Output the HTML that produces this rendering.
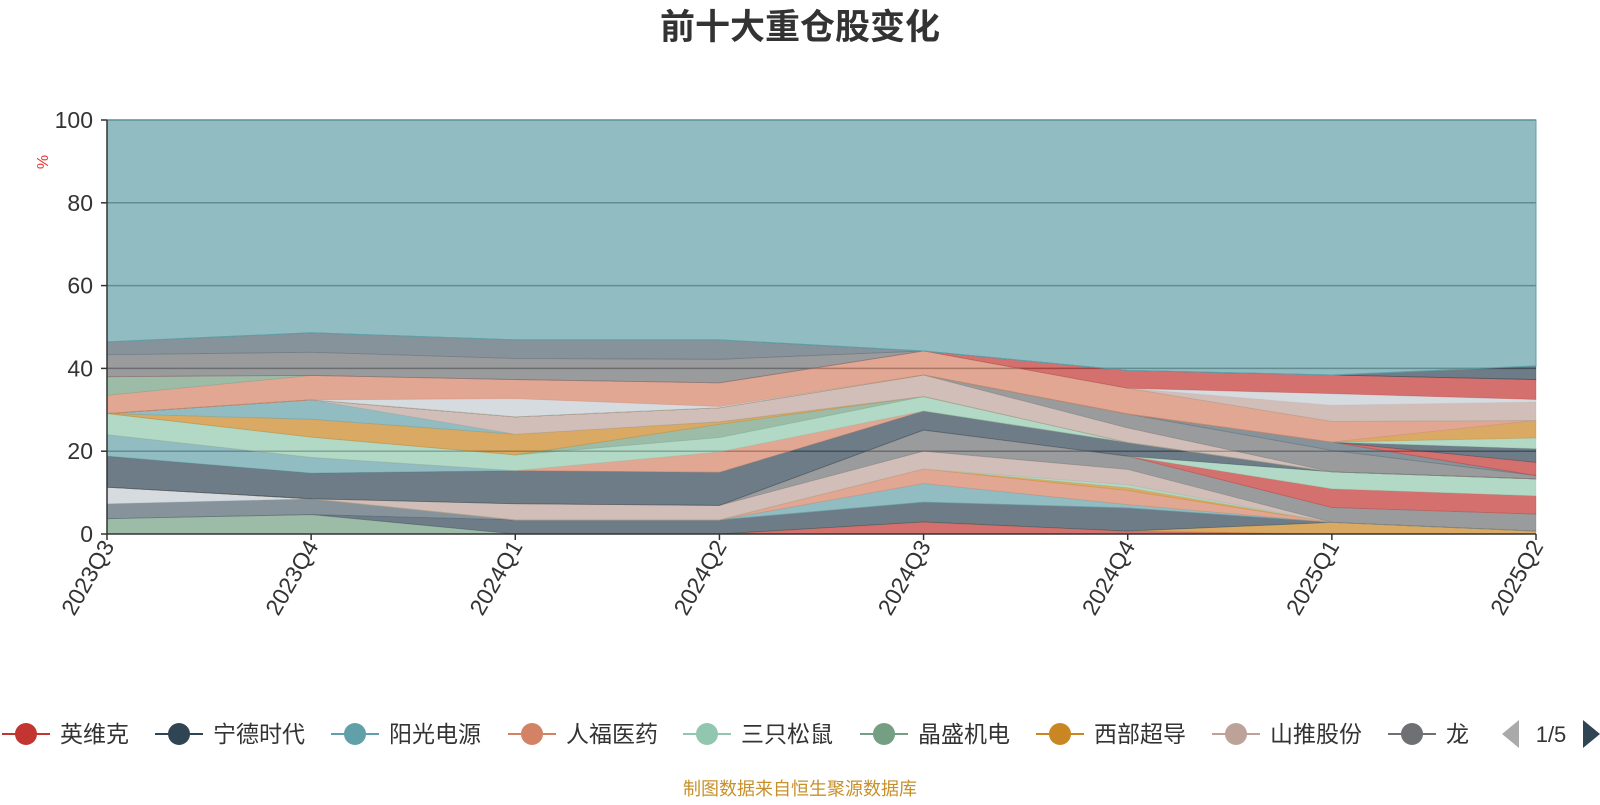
<!DOCTYPE html>
<html><head><meta charset="utf-8">
<style>
html,body{margin:0;padding:0;background:#fff;}
body{width:1600px;height:800px;overflow:hidden;font-family:"Liberation Sans","Noto Sans CJK SC",sans-serif;}
svg text{font-family:"Liberation Sans","Noto Sans CJK SC",sans-serif;}
</style></head>
<body>
<svg id="chart" width="1600" height="800" xmlns="http://www.w3.org/2000/svg">
<text x="800" y="39" text-anchor="middle" font-size="35" font-weight="bold" fill="#333">前十大重仓股变化</text>
<text x="0" y="0" font-size="16" fill="#e33" transform="translate(48,162) rotate(-90)" text-anchor="middle">%</text>
<g id="grid"></g>
<g id="areas"></g>
<g id="axes"></g>
<g id="legend"></g>
<text x="800" y="795" text-anchor="middle" font-size="18" fill="#c8902a">制图数据来自恒生聚源数据库</text>
</svg>
<script>
const categories = ["2023Q3","2023Q4","2024Q1","2024Q2","2024Q3","2024Q4","2025Q1","2025Q2"];
const yTicks = [0,20,40,60,80,100];
const legendNames = ["英维克","宁德时代","阳光电源","人福医药","三只松鼠","晶盛机电","西部超导","山推股份","龙"];
const legendColors = ["#c23531","#2f4554","#61a0a8","#d48265","#91c7ae","#749f83","#ca8622","#bda29a","#6e7074"];
// layer values (bottom to top), thickness in %
const redBottom      = [0,0,0,0,2.9,0.7,0,0];
const orangeBottom   = [0,0,0,0,0,0,2.8,0.7];
const greenBottom    = [3.7,4.7,0,0,0,0,0,0];
const slateBottom    = [0,0,3.4,3.4,4.8,5.6,0,0];
const blueGreyBottom = [3.6,3.8,0,0,0,0,0,0];
const lightBottom    = [4.0,0,0,0,0,0,0,0];
const tealLow        = [0,0,0,0,4.5,0.8,0,0];
const salmonLow      = [0,0,0,0,3.5,3.4,0,0];
const orangeLow      = [0,0,0,0,0,0.7,0,0];
const mintLow        = [0,0,0,0,0,0.7,0,0];
const pinkLow        = [0,0,3.9,3.5,4.3,3.7,0,0];
const greyLow        = [0,0,0,0,5.1,3.2,3.6,4.1];
const redLow         = [0,0,0,0,0,0,4.5,4.4];
const mintLow2       = [0,0,0,0,0,0,4.1,4.1];
const slateMain      = [7.5,6.2,8.0,8.0,4.6,3.3,0,0];
const tealMid        = [5.2,3.8,0,0,0,0,0,0];
const salmonMid      = [0,0,0,4.9,0,0,0,0];
const mintMain       = [5.1,4.9,3.8,3.5,3.5,0,0,0];
const greenMid       = [0,0,0,3.2,0,0,0,0];
const orangeMid      = [0,4.3,5.0,0.6,0,0,0,0];
const tealUpper      = [0,4.7,0,0,0,0,0,0];
const pinkTop        = [0,0,4.2,3.4,5.2,3.5,0,0];
const greyUpper      = [0,0,0,0,0,3.4,5.2,0.8];
const blueGreyMid    = [0,0,0,0,0,0,2.0,0];
const redMid         = [0,0,0,0,0,0,0,3.2];
const slateMid       = [0,0,0,0,0,0,0,3.3];
const mintTop        = [0,0,0,0,0,0,0,2.6];
const orangeTop      = [0,0,0,0,0,0,0,4.2];
const lightMid       = [0,0,4.4,0.3,0,0,0,0];
const salmonMain     = [4.4,5.9,4.6,5.7,5.8,6.2,5.0,0];
const greenTop       = [4.5,0,0,0,0,0,0,0];
const pinkTop2       = [0,0,0,0,0,0,3.9,4.5];
const lightTop       = [0,0,0,0,0,0,2.8,0.6];
const redTop         = [0,0,0,0,0,4.3,4.5,4.8];
const greyTop        = [5.3,5.6,5.1,5.7,0,0,0,0];
const blueGreyTop    = [3.1,4.7,4.5,4.7,0,0,0,0];
const slateTop       = [0,0,0,0,0,0,0,3.3];

const C = {red:"#c23531",slate:"#2f4554",teal:"#61a0a8",salmon:"#d48265",mint:"#91c7ae",green:"#749f83",orange:"#ca8622",pink:"#bda29a",grey:"#6e7074",bg:"#546570",light:"#c4ccd3"};
const layers = [
 [redBottom,C.red],[orangeBottom,C.orange],[greenBottom,C.green],[slateBottom,C.slate],[blueGreyBottom,C.bg],
 [lightBottom,C.light],[tealLow,C.teal],[salmonLow,C.salmon],[orangeLow,C.orange],[mintLow,C.mint],
 [pinkLow,C.pink],[greyLow,C.grey],[redLow,C.red],[mintLow2,C.mint],[slateMain,C.slate],[tealMid,C.teal],
 [salmonMid,C.salmon],[mintMain,C.mint],[greenMid,C.green],[orangeMid,C.orange],[tealUpper,C.teal],
 [pinkTop,C.pink],[greyUpper,C.grey],[blueGreyMid,C.bg],[redMid,C.red],[slateMid,C.slate],[mintTop,C.mint],
 [orangeTop,C.orange],[lightMid,C.light],[salmonMain,C.salmon],[greenTop,C.green],[pinkTop2,C.pink],
 [lightTop,C.light],[redTop,C.red],[greyTop,C.grey],[blueGreyTop,C.bg],[slateTop,C.slate]
];
const NS="http://www.w3.org/2000/svg";
const X0=107,X1=1536,Y0=534,Y1=120;
function xScale(i){return X0+(X1-X0)*i/(categories.length-1);}
function yScale(v){return Y0-(Y0-Y1)*v/100;}
function mk(tag,attrs,parent){const e=document.createElementNS(NS,tag);for(const k in attrs)e.setAttribute(k,attrs[k]);parent.appendChild(e);return e;}
const grid=document.getElementById('grid'),areas=document.getElementById('areas'),axes=document.getElementById('axes'),legend=document.getElementById('legend');
yTicks.forEach(t=>{ if(t===0)return;
 const l=mk('line',{x1:X0,x2:X1,y1:yScale(t),y2:yScale(t),stroke:'#888','stroke-width':1.5},grid);
 
 
});
let base=categories.map(()=>0);
layers.forEach((ly,li)=>{
 const vals=ly[0];
 const top=base.map((b,i)=>b+vals[i]);
 let d='M'+categories.map((c,i)=>xScale(i)+','+yScale(top[i])).join('L');
 for(let i=categories.length-1;i>=0;i--) d+='L'+xScale(i)+','+yScale(base[i]);
 d+='Z';
 const p=mk('path',{d:d,fill:ly[1],'fill-opacity':0.7,stroke:ly[1],'stroke-opacity':0.35,'stroke-width':0.8},areas);
 
 
 base=top;
});
{
 let d='M'+categories.map((c,i)=>xScale(i)+','+yScale(100)).join('L');
 for(let i=categories.length-1;i>=0;i--) d+='L'+xScale(i)+','+yScale(base[i]);
 d+='Z';
 const p=mk('path',{d:d,fill:C.teal,'fill-opacity':0.7,stroke:C.teal,'stroke-width':1},areas);
 
 
}
yTicks.forEach(t=>{ if(t===0)return;
 const l=mk('line',{x1:X0,x2:X1,y1:yScale(t),y2:yScale(t),stroke:'rgba(0,0,0,0.08)','stroke-width':1.5},areas);
 
 
});
const ya=mk('line',{x1:X0,x2:X0,y1:Y1,y2:Y0,stroke:'#333','stroke-width':1.5},axes);


const xa=mk('line',{x1:X0,x2:X1,y1:Y0,y2:Y0,stroke:'#333','stroke-width':1.5},axes);


yTicks.forEach(t=>{
 const tk=mk('line',{x1:X0-6,x2:X0,y1:yScale(t),y2:yScale(t),stroke:'#333','stroke-width':1.5},axes);
 
 
 const tx=mk('text',{x:X0-14,y:yScale(t)+8,'text-anchor':'end','font-size':23,fill:'#333'},axes);
 tx.textContent=t;
 
 
});
categories.forEach((c,i)=>{
 const x=xScale(i);
 const tk=mk('line',{x1:x,x2:x,y1:Y0,y2:Y0+6,stroke:'#333','stroke-width':1.5},axes);
 
 
 const tx=mk('text',{x:0,y:0,'text-anchor':'end','font-size':23,fill:'#333',transform:'translate('+(x+8)+','+(Y0+12)+') rotate(-60)'},axes);
 tx.textContent=c;
 
 
});
const legendX=[26,179,355,532,707,884,1060,1236,1412];
legendNames.forEach((n,i)=>{
 const g=mk('g',{},legend);
 
 
 const cx=legendX[i];
 mk('line',{x1:cx-24,x2:cx+24,y1:734,y2:734,stroke:legendColors[i],'stroke-width':2},g);
 mk('circle',{cx:cx,cy:734,r:11,fill:legendColors[i]},g);
 const t=mk('text',{x:cx+34,y:742,'font-size':23,fill:'#333'},g);
 t.textContent=n;
});
const pl=mk('polygon',{points:'1502,734 1519,720 1519,748',fill:'#aaa'},legend);


const pt=mk('text',{x:1551,y:742,'font-size':22,fill:'#333','text-anchor':'middle'},legend);
pt.textContent='1/5';


const pn=mk('polygon',{points:'1583,720 1600,734 1583,748',fill:'#2f4554'},legend);


</script>
</body></html>
